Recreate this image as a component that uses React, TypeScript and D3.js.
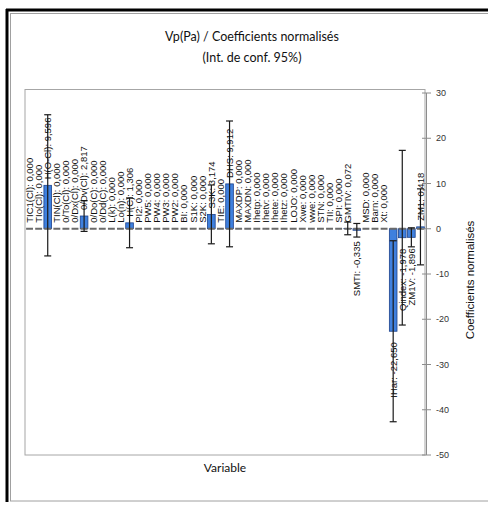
import React from "react";
import * as d3 from "d3";

const categories = [
  "TIC1(Cl)", "TIo(Cl)", "H(O-Cl)", "TIN(Cl)", "0/To(Cl)", "0/Dx(Cl)", "0/Dv(Cl)", "0/Do(C)",
  "0/Dd(C)", "L(k)", "Lo(n)", "H(C)", "PI2", "PW5", "PW4", "PW3", "PW2", "BI", "S1K", "S2K",
  "S3K", "TIE", "DHS", "MAXDP", "MAXDN", "Ihetp", "Ihetv", "Ihete", "Ihetz", "LOJO", "Xwe",
  "wwe", "STN", "TII", "SPI", "GMTIV", "SMTI", "MSD", "Barn", "Xt", "IHar", "Qindex", "ZM1V", "ZM1",
];

const values = [
  0, 0, 9.596, 0, 0, 0, 2.817, 0, 0, 0, 0, 1.306, 0, 0, 0, 0, 0, 0, 0, 0,
  3.174, 0, 9.912, 0, 0, 0, 0, 0, 0, 0, 0, 0, 0, 0, 0, 0.072, -0.335, 0, 0, 0,
  -22.65, -1.978, -1.896, 0.418,
];

const errors = [
  0, 0, 15.6, 0, 0, 0, 3.4, 0, 0, 0, 0, 5.5, 0, 0, 0, 0, 0, 0, 0, 0,
  6.5, 0, 13.9, 0, 0, 0, 0, 0, 0, 0, 0, 0, 0, 0, 0, 1.4, 1.5, 0, 0, 0,
  20.0, 19.3, 2.1, 8.4,
];

const yTicks = [30, 20, 10, 0, -10, -20, -30, -40, -50];

const fmt = (v: number) => d3.format(".3f")(v).replace(".", ",").replace("−", "-");

export default function App() {
  const W = 488, H = 507;
  const left = 25, right = 425, top = 93, bottom = 455;
  const x = d3
    .scaleBand<number>()
    .domain(d3.range(categories.length))
    .range([left, right])
    .paddingInner(0.16)
    .paddingOuter(0.08);
  const y = d3.scaleLinear().domain([-50, 30]).range([bottom, top]);
  const y0 = y(0);
  const bw = x.bandwidth();
  const labelFont = "Liberation Sans, Arial, sans-serif";

  return (
    <svg
      width={W}
      height={H}
      style={{ position: "absolute", left: 0, top: 0, background: "#fff" }}
      fontFamily={labelFont}
    >
      {/* outer frames */}
      <rect x={10.5} y={13.5} width={490} height={487.5} fill="#fff" stroke="#a0a0a0" strokeWidth={1} />
      <line x1={7} x2={7} y1={9} y2={502} stroke="#000" strokeWidth={3} />
      <line x1={6} x2={488} y1={10} y2={10} stroke="#000" strokeWidth={3} />

      {/* title */}
      <text x={252} y={41} textAnchor="middle" fontSize={12.5} fontFamily="Lato, sans-serif" fill="#111">
        Vp(Pa) / Coefficients normalisés
      </text>
      <text x={252} y={62} textAnchor="middle" fontSize={12.5} fontFamily="Lato, sans-serif" fill="#111">
        (Int. de conf. 95%)
      </text>

      {/* plot area */}
      <rect x={left} y={89.5} width={right - left} height={bottom - 89.5} fill="#fff" stroke="#a6a6a6" strokeWidth={1} />

      {/* bars */}
      {values.map((v, i) =>
        v === 0 ? null : (
          <rect
            key={"b" + i}
            x={x(i)!}
            y={Math.min(y(v), y0)}
            width={bw}
            height={Math.abs(y(v) - y0)}
            fill="#3f80de"
            stroke="#1d428c"
            strokeWidth={0.8}
          />
        )
      )}

      {/* zero line (dashed category axis) */}
      <line
        x1={left}
        x2={right}
        y1={y0}
        y2={y0}
        stroke="#6a6a6a"
        strokeWidth={2}
        strokeDasharray={`${(right - left) / categories.length - 2.2} 2.2`}
        strokeDashoffset={-1.1}
      />

      {/* error bars */}
      {values.map((v, i) => {
        const e = errors[i];
        if (!e) return null;
        const cx = x(i)! + bw / 2;
        const y1 = y(v + e), y2 = y(v - e);
        return (
          <g key={"e" + i} stroke="#1a1a1a" strokeWidth={1.2}>
            <line x1={cx} x2={cx} y1={y1} y2={y2} />
            <line x1={cx - 3.5} x2={cx + 3.5} y1={y1} y2={y1} />
            <line x1={cx - 3.5} x2={cx + 3.5} y1={y2} y2={y2} />
          </g>
        );
      })}

      {/* data labels */}
      {values.map((v, i) => {
        const cx = x(i)! + bw / 2;
        const pos = v >= 0;
        const ly = pos ? y(v) - 6 : y(v) + 11;
        return (
          <text
            key={"l" + i}
            transform={`translate(${cx},${ly}) rotate(-90)`}
            textAnchor={pos ? "start" : "end"}
            dy="0.35em"
            fontSize={9.5}
            fill="#111"
          >
            {`${categories[i]}: ${fmt(v)}`}
          </text>
        );
      })}

      {/* right axis */}
      <line x1={426.5} x2={426.5} y1={top} y2={bottom} stroke="#8c8c8c" strokeWidth={1} />
      {yTicks.map((t) => (
        <g key={"t" + t}>
          <line x1={422} x2={431} y1={y(t)} y2={y(t)} stroke="#8c8c8c" strokeWidth={1} />
          <text x={436} y={y(t)} dy="0.35em" fontSize={9} fill="#333">
            {t}
          </text>
        </g>
      ))}
      <text
        transform={`translate(474,${(top + bottom) / 2 + 6}) rotate(-90)`}
        textAnchor="middle"
        fontSize={11.5}
        fill="#111"
      >
        Coefficients normalisés
      </text>

      {/* x axis title */}
      <text x={(left + right) / 2} y={472} textAnchor="middle" fontSize={12} fontFamily="Lato, sans-serif" fill="#111">
        Variable
      </text>
    </svg>
  );
}
